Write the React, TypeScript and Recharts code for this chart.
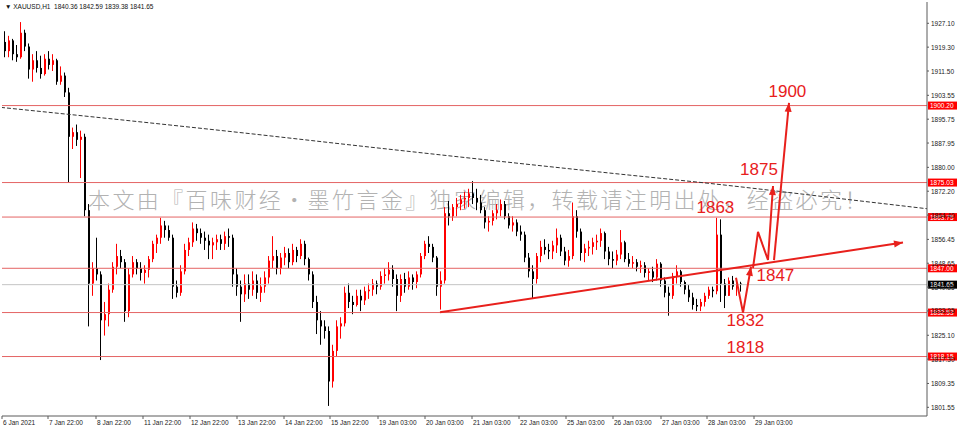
import React from "react"
import {
  ComposedChart, Bar, Line, XAxis, YAxis, ReferenceLine, ReferenceDot,
} from "recharts"

// XAUUSD H1 (each candle here ~2h)
const firstOpen = 1921
const highs = [
  1924.5, 1923, 1922, 1920, 1927.5, 1925, 1920.5, 1917, 1918, 1916.5,
  1917, 1918, 1917, 1915.5, 1913, 1911, 1906, 1893, 1894, 1892,
  1891, 1868, 1849, 1857, 1846, 1836, 1842, 1849, 1855, 1853,
  1850, 1847, 1851, 1850, 1849, 1848, 1851, 1856, 1858, 1863.5,
  1862.5, 1861, 1858, 1843, 1848, 1855, 1857, 1862, 1861.5, 1860,
  1859, 1858, 1857, 1858, 1858, 1859, 1860, 1858, 1847, 1843,
  1845, 1845, 1846, 1845, 1844, 1846, 1851, 1857.5, 1853, 1852,
  1854, 1853.5, 1855, 1854, 1856.5, 1856, 1850.5, 1846, 1838, 1833,
  1830, 1828, 1822, 1830, 1831, 1841, 1842, 1838, 1840, 1840,
  1841, 1842, 1843.5, 1843, 1846, 1847, 1849, 1848, 1845, 1845,
  1845.5, 1846, 1845, 1846, 1852, 1856, 1857.5, 1855, 1851, 1846,
  1867, 1869, 1868, 1870, 1871, 1872, 1873, 1875.5, 1873, 1871,
  1867, 1864, 1866, 1868, 1869.5, 1869, 1865, 1864, 1863, 1861,
  1859, 1852, 1848, 1852, 1856, 1856.5, 1855, 1856, 1860, 1858,
  1854, 1853, 1868.5, 1866, 1860, 1855, 1856, 1857, 1858, 1860,
  1859, 1854, 1852.5, 1853, 1859.5, 1856, 1852, 1851, 1850, 1849.5,
  1849, 1847, 1847.5, 1850, 1849, 1844, 1841, 1845.5, 1848, 1846.5,
  1843, 1841.5, 1839, 1837, 1837, 1839, 1841, 1841, 1863.5, 1863,
  1843.5, 1844, 1844.5, 1843, 1842.59,
]
const lows = [
  1916, 1916, 1915, 1914.5, 1915.5, 1918, 1909, 1908, 1911, 1909,
  1910, 1912, 1911.5, 1907, 1907, 1903, 1875, 1886, 1887, 1876.5,
  1864, 1828, 1838, 1843, 1817, 1825, 1828, 1839, 1845, 1847,
  1829.5, 1831, 1844, 1845, 1843, 1842, 1844, 1849, 1852, 1855,
  1857, 1856, 1837, 1837.5, 1838, 1845, 1851, 1854, 1856, 1855,
  1853, 1850, 1850, 1853, 1853, 1853, 1854, 1841, 1838, 1829.5,
  1836, 1837, 1838, 1837, 1836, 1839, 1842, 1847, 1845, 1845,
  1848, 1847, 1848, 1849, 1850, 1848, 1843, 1834, 1825.5, 1822,
  1824, 1802, 1808, 1818, 1824, 1828, 1834, 1832, 1834.5, 1833,
  1835, 1837, 1838, 1838.5, 1840, 1842, 1843, 1841, 1833, 1836,
  1839, 1840, 1840, 1840.5, 1844, 1850, 1852, 1849, 1838, 1833.5,
  1842, 1861, 1862.5, 1864, 1866, 1866.5, 1867, 1868, 1866, 1865,
  1860, 1859, 1861, 1863, 1864, 1863, 1860, 1859, 1857.5, 1856,
  1849, 1844, 1837, 1842, 1849, 1851.5, 1850, 1850, 1852, 1851,
  1848, 1847.5, 1850, 1857, 1849.5, 1849, 1851, 1851.5, 1853, 1854,
  1850, 1848, 1847, 1848, 1850, 1849, 1847.5, 1847, 1846, 1845.5,
  1844, 1843, 1842.5, 1843, 1841, 1837.5, 1831.5, 1837, 1842, 1841,
  1838.5, 1836, 1833.5, 1833, 1833, 1834.5, 1837, 1837.5, 1838.5, 1836,
  1834, 1839, 1840, 1838, 1839.38,
]
const closes = [
  1918, 1921.5, 1917, 1916, 1924, 1919.5, 1912, 1915, 1912.5, 1910.5,
  1915.5, 1913.5, 1915, 1908, 1910, 1904.5, 1890, 1891.5, 1889, 1890,
  1866, 1842, 1847, 1845, 1830, 1832, 1840, 1847.5, 1851, 1849,
  1833, 1845, 1849, 1847, 1845.5, 1846.5, 1850, 1855, 1857, 1861,
  1859.5, 1857, 1841, 1839, 1846, 1853, 1855.5, 1860, 1858.5, 1857,
  1856, 1854.5, 1855.5, 1856.5, 1855, 1857.5, 1857, 1845, 1841, 1838.5,
  1842, 1840, 1843, 1839, 1841, 1844, 1849.5, 1851, 1847, 1850.5,
  1852, 1849, 1853, 1851, 1855, 1850, 1845, 1836, 1830, 1828,
  1826.5, 1810, 1820, 1828, 1829, 1839, 1836, 1835, 1838, 1836.5,
  1839.5, 1840, 1842, 1841, 1844.5, 1845, 1846.5, 1843.5, 1838, 1843.5,
  1841, 1844, 1842.5, 1845, 1851, 1855, 1854, 1850.5, 1841, 1843,
  1865, 1864, 1867, 1868, 1869.5, 1870, 1871.5, 1870, 1868.5, 1866,
  1862, 1862.5, 1865, 1866, 1868, 1864, 1861, 1862, 1859, 1858,
  1850.5, 1846, 1843.5, 1851, 1854, 1853, 1852.5, 1854.5, 1857, 1852.5,
  1849.5, 1851, 1864, 1859, 1852, 1853.5, 1854, 1855.5, 1856, 1858.5,
  1852.5, 1850, 1849.5, 1851.5, 1855.5, 1850, 1848.5, 1849, 1847.5, 1848,
  1845.5, 1846, 1844, 1848.5, 1843, 1839, 1838, 1844.5, 1846, 1842.5,
  1840, 1837.5, 1835, 1834.5, 1836, 1838, 1840, 1839.5, 1858, 1842,
  1838, 1843, 1841, 1842, 1841.65,
]

// long dashed moving average
const maIdx = [-1, 30, 60, 90, 120, 150, 180, 210, 231]
const maVals = [1899.6, 1895.4, 1891.2, 1886.8, 1882.5, 1878.3, 1874.2, 1869.6, 1866.4]

// drawn trendline and projected path
const trendIdx = [108.75, 224.5]
const trendVals = [1832.6, 1855.4]
const pathAIdx = [182.75, 184.5, 186.5]
const pathAVals = [1843.9, 1832.5, 1847.5]
const pathBIdx = [187, 188.25, 190.75, 192]
const pathBVals = [1847.1, 1858.9, 1849.7, 1873.9]
const pathCIdx = [192.25, 196]
const pathCVals = [1849.7, 1901.1]

const levels = [1900.2, 1875.03, 1863.75, 1847.0, 1832.53, 1818.15]
const lastPrice = 1841.65

const noteTexts = ["1900", "1875", "1863", "1847", "1832", "1818"]
const noteIdx = [195.6, 188.5, 177.6, 192.6, 185.1, 185.1]
const noteVals = [1904.65, 1879.2, 1866.9, 1844.8, 1829.8, 1821.0]

const yTicks = [
  1927.1, 1919.3, 1911.5, 1903.55, 1895.75, 1887.95, 1880.0, 1872.2, 1864.4,
  1856.45, 1848.65, 1840.85, 1833.05, 1825.1, 1817.3, 1809.35, 1801.55,
]
const timeTicks = [-0.75, 10.75, 22.75, 34.5, 46.25, 58, 69.75, 81.25, 93.25, 105, 116.75, 128.5, 140.25, 152, 164, 175.5, 187.25]
const timeLabels = [
  "6 Jan 2021", "7 Jan 22:00", "8 Jan 22:00", "11 Jan 22:00", "12 Jan 22:00",
  "13 Jan 22:00", "14 Jan 22:00", "15 Jan 22:00", "19 Jan 03:00", "20 Jan 03:00",
  "21 Jan 03:00", "22 Jan 03:00", "25 Jan 03:00", "26 Jan 03:00", "27 Jan 03:00",
  "28 Jan 03:00", "29 Jan 03:00",
]

const RED = "#e8201c"
const LEVEL = "#e46464"
const FRAME = "#5a5a5a"
const FONT = '"Liberation Sans", Arial, sans-serif'

const candles = closes.map((c, i) => {
  const open = i === 0 ? firstOpen : closes[i - 1]
  return {
    i,
    open,
    close: c,
    high: Math.max(highs[i], open, c),
    low: Math.min(lows[i], open, c),
  }
})

const toPts = (idx: number[], vals: number[]) => idx.map((i, k) => ({ i, p: vals[k] }))

function Candle(props: any) {
  const { x, y, width, height, payload } = props
  if (!payload || height == null) return <g />
  const { open, close, high, low } = payload
  const span = high - low || 1
  const yOf = (v: number) => y + ((high - v) / span) * height
  const up = close >= open
  const color = up ? "#ff0000" : "#000000"
  const cx = Math.floor(x + width / 2)
  const top = yOf(Math.max(open, close))
  const bot = yOf(Math.min(open, close))
  return (
    <g>
      <line x1={cx + 0.5} x2={cx + 0.5} y1={y} y2={y + height} stroke={color} strokeWidth={1} />
      <rect x={cx} y={top} width={2} height={Math.max(1, bot - top)} fill={color} />
    </g>
  )
}

function makeArrow(n: number, color: string) {
  let prev: { x: number; y: number } | null = null
  return (props: any) => {
    const { cx, cy, index, points } = props
    if (index !== n - 1) {
      prev = { x: cx, y: cy }
      return <g key={`a-${index}`} />
    }
    const p = points && points[index - 1] ? points[index - 1] : prev
    if (!p) return <g key={`a-${index}`} />
    const ang = Math.atan2(cy - p.y, cx - p.x)
    const L = 9, W = 3.5
    const bx = cx - L * Math.cos(ang), by = cy - L * Math.sin(ang)
    const px = -Math.sin(ang) * W, py = Math.cos(ang) * W
    return (
      <polygon
        key={`a-${index}`}
        points={`${cx},${cy} ${bx + px},${by + py} ${bx - px},${by - py}`}
        fill={color}
      />
    )
  }
}

function PriceTag(props: any) {
  const { viewBox, text, bg } = props
  if (!viewBox) return null
  const x = viewBox.x + viewBox.width + 1
  const y = viewBox.y
  return (
    <g>
      <rect x={x} y={y - 4} width={29} height={8} fill={bg} />
      <text x={x + 2} y={y} dominantBaseline="central" fontSize={6.5} fill="#fff" fontFamily={FONT}>{text}</text>
    </g>
  )
}

function NoteLabel(props: any) {
  const { viewBox, text } = props
  if (!viewBox) return null
  return (
    <text
      x={viewBox.x + viewBox.width / 2}
      y={viewBox.y + viewBox.height / 2}
      textAnchor="middle"
      dominantBaseline="central"
      fontSize={17}
      fill={RED}
      fontFamily={FONT}
    >
      {text}
    </text>
  )
}

function TimeTick(props: any) {
  const { x, y, payload } = props
  const k = timeTicks.indexOf(payload.value)
  return (
    <g>
      <line x1={x} x2={x} y1={y} y2={y + 3} stroke={FRAME} />
      <text x={x + 1} y={y + 6} dominantBaseline="central" fontSize={6.5} fill="#222" fontFamily={FONT}>
        {timeLabels[k]}
      </text>
    </g>
  )
}

function PriceTick(props: any) {
  const { x, y, payload } = props
  return (
    <g>
      <line x1={x} x2={x + 2} y1={y} y2={y} stroke={FRAME} />
      <text x={x + 4} y={y} dominantBaseline="central" fontSize={6.5} fill="#222" fontFamily={FONT}>
        {payload.value.toFixed(2)}
      </text>
    </g>
  )
}

export default function App() {
  const lines = [
    { key: "trend", data: toPts(trendIdx, trendVals) },
    { key: "pa", data: toPts(pathAIdx, pathAVals) },
    { key: "pb", data: toPts(pathBIdx, pathBVals) },
    { key: "pc", data: toPts(pathCIdx, pathCVals) },
  ]

  return (
    <div style={{ position: "absolute", left: 0, top: 0, width: 960, height: 429, background: "#fff", fontFamily: FONT }}>
      <div
        style={{
          position: "absolute", left: 88, top: 187, fontSize: 22, lineHeight: "22px",
          letterSpacing: "2.4px", color: "#b2b2b2", whiteSpace: "nowrap",
          fontFamily: '"Noto Sans CJK SC", sans-serif', fontWeight: 300,
        }}
      >
        本文由『百味财经•墨竹言金』独家编辑，转载请注明出处，经盗必究！
      </div>
      <div style={{ position: "absolute", left: 0, top: 0 }}>
        <ComposedChart width={960} height={429} data={candles} margin={{ top: 2, right: 0, bottom: 0, left: 2 }}>
          <XAxis
            xAxisId="x" dataKey="i" type="number" domain={[-0.75, 230.5]} allowDataOverflow
            ticks={timeTicks} interval={0} tick={<TimeTick />} tickLine={false} tickSize={0} tickMargin={0}
            axisLine={{ stroke: FRAME }} height={13}
          />
          <XAxis xAxisId="top" orientation="top" type="number" domain={[0, 1]} height={0} tick={false} tickLine={false} axisLine={{ stroke: FRAME }} />
          <YAxis
            yAxisId="p" orientation="right" type="number" domain={[1798.71, 1934.06]} allowDataOverflow
            ticks={yTicks} interval={0} tick={<PriceTick />} tickLine={false} tickSize={0} tickMargin={0}
            axisLine={{ stroke: FRAME }} width={33}
          />
          <YAxis yAxisId="left" orientation="left" type="number" domain={[0, 1]} width={0} tick={false} tickLine={false} axisLine={{ stroke: FRAME }} />

          <ReferenceLine xAxisId="x" yAxisId="p" y={lastPrice} stroke="#c4c4c4" label={<PriceTag text={lastPrice.toFixed(2)} bg="#000" />} />
          {levels.map((v) => (
            <ReferenceLine key={v} xAxisId="x" yAxisId="p" y={v} stroke={LEVEL} label={<PriceTag text={v.toFixed(2)} bg="#ff0000" />} />
          ))}

          <Line
            xAxisId="x" yAxisId="p" data={toPts(maIdx, maVals)} dataKey="p" type="monotone"
            stroke="#333" strokeWidth={1} strokeDasharray="4 2" dot={false} activeDot={false} isAnimationActive={false}
          />

          <Bar xAxisId="x" yAxisId="p" dataKey={(d: any) => [d.low, d.high]} barSize={2} shape={(p: any) => <Candle {...p} />} isAnimationActive={false} />

          {lines.map((l) => (
            <Line
              key={l.key} xAxisId="x" yAxisId="p" data={l.data} dataKey="p" type="linear"
              stroke={RED} strokeWidth={2} dot={makeArrow(l.data.length, RED)} activeDot={false} isAnimationActive={false}
            />
          ))}

          {noteTexts.map((t, k) => (
            <ReferenceDot
              key={t} xAxisId="x" yAxisId="p" x={noteIdx[k]} y={noteVals[k]} r={1}
              fill="none" stroke="none" label={<NoteLabel text={t} />}
            />
          ))}
        </ComposedChart>
      </div>
      <div style={{ position: "absolute", left: 5, top: 3, fontSize: 6.5, color: "#111", whiteSpace: "nowrap", fontFamily: FONT }}>
        ▼ XAUUSD,H1&nbsp; 1840.36 1842.59 1839.38 1841.65
      </div>
    </div>
  )
}
